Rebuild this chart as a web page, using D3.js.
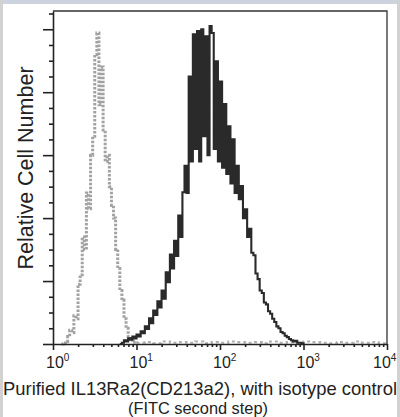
<!DOCTYPE html>
<html>
<head>
<meta charset="utf-8">
<script src="https://cdn.jsdelivr.net/npm/d3@7"></script>
<style>
  html, body { margin: 0; padding: 0; background: #fff; }
  svg { display: block; }
</style>
</head>
<body>
<div id="chart"></div>
<script>
// histogram counts, bins of 0.025 decade
var binStep = 0.025;
var specStart = 0.80;   // log10 of first bin, IL13Ra2 stain (black)
var specCounts = [0, 2, 6, 4, 9, 7, 12, 9, 15, 12, 20, 17, 28, 24, 41, 33, 53, 46, 68, 58,
  85, 72, 114, 98, 142, 120, 164, 140, 204, 170, 241, 283, 240, 425, 290, 492, 310, 497, 290, 500,
  330, 489, 300, 505, 494, 310, 449, 290, 417, 280, 381, 270, 346, 255, 325, 240, 283, 230, 251, 200,
  214, 170, 183, 145, 141, 112, 103, 85, 81, 66, 63, 52, 48, 40, 35, 28, 25, 19, 17, 13,
  11, 8, 6, 4, 5, 2, 2, 1, 0];
var isoStart = 0.10;    // isotype control (grey)
var isoCounts = [0, 2, 4, 12, 22, 18, 45, 40, 95, 110, 170, 150, 240, 215, 300, 330, 460, 494, 380, 440,
  340, 290, 300, 250, 220, 200, 150, 120, 85, 70, 40, 25, 12, 6, 3, 4, 2];
var isoTailStart = 1.0, isoTailStep = 0.1;
var isoTail = [2, 3, 1, 4, 2, 3, 2, 4, 1, 3, 2, 4, 3, 2, 3, 1, 4, 2, 3, 2, 4, 3, 2, 1, 3, 2, 4, 2, 3, 1, 0];

var decades = [1, 10, 100, 1000, 10000];
var decadeExp = ["0", "1", "2", "3", "4"];
var yMajor = [0, 100, 200, 300, 400, 500];
var yMinor = [25, 50, 75, 125, 150, 175, 225, 250, 275, 325, 350, 375, 425, 450, 475, 525];
var yLabel = "Relative Cell Number";
var xLabel1 = "Purified IL13Ra2(CD213a2), with isotype control";
var xLabel2 = "(FITC second step)";

(function () {
  var W = 400, H = 417;
  var L = 53, R = 387, T = 11, B = 344;
  var font = "Liberation Sans, Arial, sans-serif";
  var svg = d3.select("#chart").append("svg").attr("width", W).attr("height", H);

  // grey page frame
  svg.append("rect").attr("x", 0).attr("y", 0).attr("width", W).attr("height", 4).attr("fill", "#cdd3de");
  svg.append("rect").attr("x", 0).attr("y", 0).attr("width", 3).attr("height", H).attr("fill", "#d2d2d2");
  svg.append("rect").attr("x", W - 3).attr("y", 0).attr("width", 3).attr("height", H).attr("fill", "#d2d2d2");

  var x = d3.scaleLog().domain([1, 1e4]).range([L, R]);
  var y = d3.scaleLinear().domain([0, 529]).range([B, T]);

  function pts(start, step, counts) {
    return counts.map(function (c, i) { return [Math.pow(10, start + i * step), c]; });
  }
  var line = d3.line().x(function (d) { return x(d[0]); }).y(function (d) { return y(d[1]); })
    .curve(d3.curveStepAfter);

  // isotype control, grey stipple
  svg.append("path").attr("d", line(pts(isoTailStart, isoTailStep, isoTail)))
    .attr("fill", "none").attr("stroke", "#b0b0b0").attr("stroke-width", 2.2).attr("stroke-dasharray", "3 3");
  svg.append("path").attr("d", line(pts(isoStart, binStep, isoCounts)))
    .attr("fill", "none").attr("stroke", "#a2a2a2").attr("stroke-width", 3).attr("stroke-dasharray", "2.5 1.5");

  // stained sample, black
  svg.append("path").attr("d", line(pts(specStart, binStep, specCounts)))
    .attr("fill", "none").attr("stroke", "#2a2a2a").attr("stroke-width", 2.1);

  // frame top/right
  svg.append("path").attr("d", "M" + L + "," + T + "H" + R + "V" + B)
    .attr("fill", "none").attr("stroke", "#333").attr("stroke-width", 1.3);

  // axes
  var minorX = [];
  decades.slice(0, 4).forEach(function (d) { for (var k = 2; k < 10; k++) minorX.push(d * k); });
  var gx = svg.append("g").attr("transform", "translate(0," + B + ")");
  gx.call(d3.axisBottom(x).tickValues(decades).tickSize(6).tickSizeOuter(0).tickFormat(""));
  gx.append("g").call(d3.axisBottom(x).tickValues(minorX).tickSize(3).tickFormat(""))
    .select(".domain").remove();
  var gy = svg.append("g").attr("transform", "translate(" + L + ",0)");
  gy.call(d3.axisLeft(y).tickValues(yMajor).tickSize(10).tickSizeOuter(0).tickFormat(""));
  gy.append("g").call(d3.axisLeft(y).tickValues(yMinor).tickSize(4).tickFormat(""))
    .select(".domain").remove();
  svg.selectAll(".domain, .tick line").attr("stroke", "#222").attr("stroke-width", 1.6);

  // decade labels 10^n (last one pulled in so it stays on the page)
  var lab = svg.selectAll(".dec").data(decades).enter().append("text").attr("class", "dec")
    .attr("x", function (d, i) { return x(d) - (i === decades.length - 1 ? 14 : 7); }).attr("y", 368)
    .attr("font-family", font).attr("font-size", 16).attr("fill", "#222");
  lab.append("tspan").text("10");
  lab.append("tspan").attr("dy", -7).attr("font-size", 10).text(function (d, i) { return decadeExp[i]; });

  svg.append("text").attr("transform", "translate(33,168) rotate(-90)").attr("text-anchor", "middle")
    .attr("font-family", font).attr("font-size", 21.5).attr("fill", "#222")
    .text(yLabel);
  svg.append("text").attr("x", 200).attr("y", 395).attr("text-anchor", "middle")
    .attr("textLength", 394).attr("lengthAdjust", "spacingAndGlyphs")
    .attr("font-family", font).attr("font-size", 18.5).attr("fill", "#222")
    .text(xLabel1);
  svg.append("text").attr("x", 198).attr("y", 414).attr("text-anchor", "middle")
    .attr("textLength", 140).attr("lengthAdjust", "spacingAndGlyphs")
    .attr("font-family", font).attr("font-size", 16.5).attr("fill", "#222")
    .text(xLabel2);
})();
</script>
</body>
</html>
